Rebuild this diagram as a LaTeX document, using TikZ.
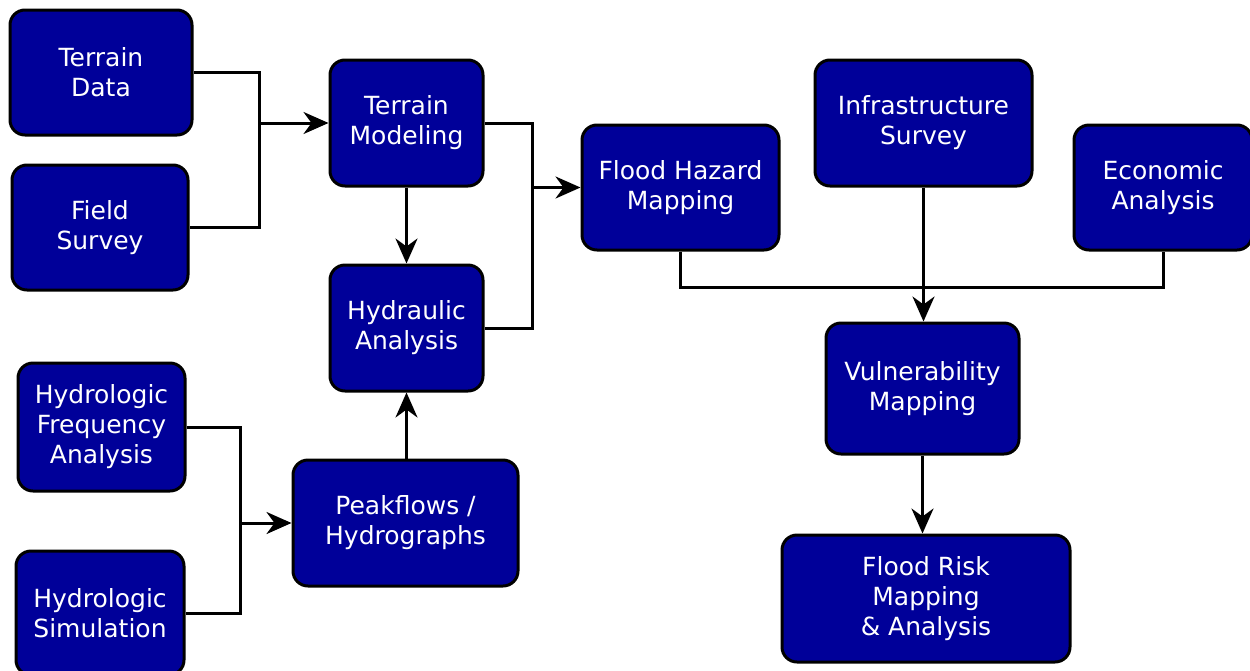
\documentclass[tikz,border=0pt]{standalone}
\usepackage{fontspec}
\setmainfont{DejaVu Sans}
\usetikzlibrary{arrows.meta,calc}
\definecolor{boxblue}{HTML}{000099}
\begin{document}
\begin{tikzpicture}[x=1pt,y=-1pt,
  box/.style={draw=black,line width=3pt,fill=boxblue,rounded corners=15pt,
    text=white,align=center,font=\fontsize{25}{30}\selectfont,inner sep=0pt},
  conn/.style={draw=black,line width=3pt},
  arr/.style={conn,-{Stealth[length=25pt,width=22pt,inset=8pt]}}]
\useasboundingbox (0,0) rectangle (1250,670);
\node[box,minimum width=182pt,minimum height=125pt] (td) at (101,72.5) {Terrain\\Data};
\node[box,minimum width=176pt,minimum height=125pt] (fs) at (100,227.5) {Field\\Survey};
\node[box,minimum width=153pt,minimum height=126pt] (tm) at (406.5,123) {Terrain\\Modeling};
\node[box,minimum width=153pt,minimum height=126pt] (ha) at (406.5,328) {Hydraulic\\Analysis};
\node[box,minimum width=167pt,minimum height=128pt] (hfa) at (101.5,427) {Hydrologic\\Frequency\\Analysis};
\node[box,minimum width=168pt,minimum height=124pt] (hs) at (100,613) {Hydrologic\\Simulation};
\node[box,minimum width=225pt,minimum height=126pt] (pk) at (405.5,523) {Peakflows /\\Hydrographs};
\node[box,minimum width=197pt,minimum height=125pt] (fh) at (680.5,187.5) {Flood Hazard\\Mapping};
\node[box,minimum width=217pt,minimum height=126pt] (is) at (923.5,123) {Infrastructure\\Survey};
\node[box,minimum width=178pt,minimum height=125pt] (ea) at (1163,187.5) {Economic\\Analysis};
\node[box,minimum width=193pt,minimum height=131pt] (vm) at (922.5,388.5) {Vulnerability\\Mapping};
\node[box,minimum width=288pt,minimum height=127pt] (fr) at (926,598.5) {Flood Risk\\Mapping\\\& Analysis};
% left top merge
\coordinate (j1) at (259,123);
\draw[conn] (td.east) -- (td.east -| j1) -- (fs.east -| j1) -- (fs.east);
\draw[arr] (j1) -- (tm.west);
% terrain modeling / hydraulic merge
\coordinate (j2) at (532,187.5);
\draw[conn] (tm.east) -- (tm.east -| j2) -- (ha.east -| j2) -- (ha.east);
\draw[arr] (j2) -- (fh.west);
\draw[arr] (tm.south) -- (ha.north);
\draw[arr] (pk.north -| ha.south) -- (ha.south);
% hydrologic merge
\coordinate (j3) at (240,523);
\draw[conn] (hfa.east) -- (hfa.east -| j3) -- (hs.east -| j3) -- (hs.east);
\draw[arr] (j3) -- (pk.west);
% right side
\coordinate (j4) at (680.5,287);
\draw[conn] (fh.south) -- (j4) -- (j4 -| ea.south) -- (ea.south);
\draw[arr] (is.south) -- (is.south |- vm.north);
\draw[arr] (vm.south) -- (vm.south |- fr.north);
\end{tikzpicture}
\end{document}
